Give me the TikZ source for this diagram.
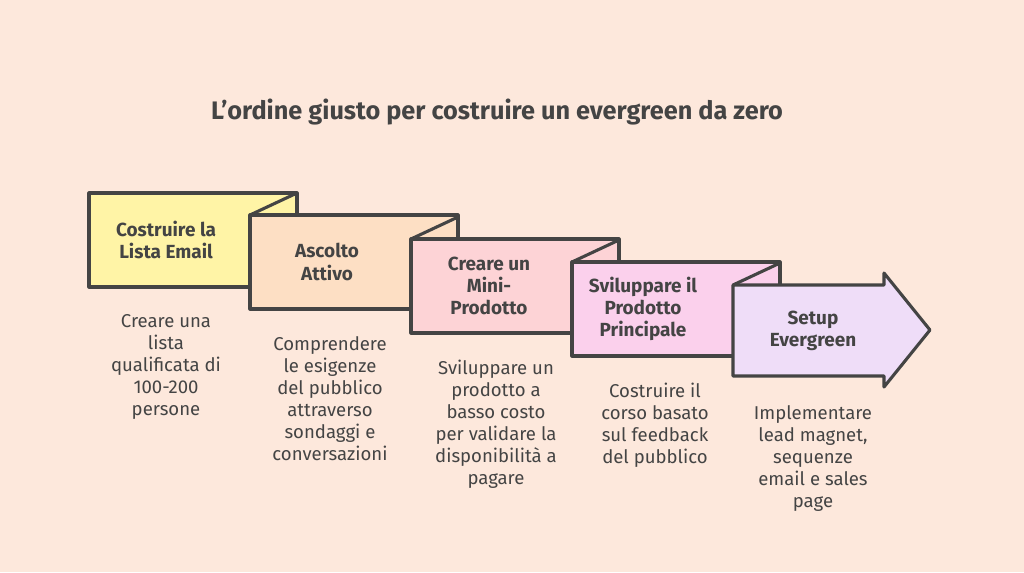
\documentclass[tikz,border=0pt]{standalone}
\usepackage{fontspec}
\setmainfont{Fira Sans}
\usetikzlibrary{positioning}
\definecolor{bgpeach}{HTML}{FDE8DC}
\definecolor{inkgrey}{HTML}{444444}
\definecolor{stepA}{HTML}{FFF4A6}
\definecolor{stepB}{HTML}{FDDFC4}
\definecolor{stepC}{HTML}{FDD3D6}
\definecolor{stepD}{HTML}{FBD0EC}
\definecolor{stepE}{HTML}{EFDDF8}
\tikzset{
  stepbox/.style={draw=inkgrey,line width=2.2pt,line join=round},
  steptext/.style={align=center,font=\fontsize{13.5}{15.8}\selectfont\bfseries,text=inkgrey},
  desctext/.style={align=center,font=\fontsize{13.2}{15.6}\selectfont,text=inkgrey}
}
\begin{document}
\begin{tikzpicture}[x=0.025cm,y=-0.025cm]
  \fill[bgpeach] (0,0) rectangle (1024,572);
  \node[font=\fontsize{18}{20}\selectfont\bfseries,text=inkgrey] (title) at (497,112)
    {L'ordine giusto per costruire un evergreen da zero};

  % steps 1-4
  \foreach \x/\y/\c in {89/193/stepA,250/215/stepB,411/239/stepC,572/262/stepD} {
    \draw[stepbox,fill=\c] (\x,\y) rectangle ++(208,94);
  }
  % last step as arrow
  \draw[stepbox,fill=stepE] (733,285) -- (884,285) -- (884,273) -- (930,330)
    -- (884,387) -- (884,376) -- (733,376) -- cycle;
  % folds
  \foreach \x/\y in {250/215,411/239,572/262,733/285} {
    \draw[stepbox] (\x+47,\y-22) -- (\x,\y);
  }

  \node[steptext] (s1) at (166,240) {Costruire la\\Lista Email};
  \node[steptext] (s2) at (327,262) {Ascolto\\Attivo};
  \node[steptext] (s3) at (489,286) {Creare un\\Mini-\\Prodotto};
  \node[steptext] (s4) at (643,309) {Sviluppare il\\Prodotto\\Principale};
  \node[steptext] (s5) at (813,331) {Setup\\Evergreen};

  \node[desctext,anchor=north] (d1) at (166,310) {Creare una\\lista\\qualificata di\\100-200\\persone};
  \node[desctext,anchor=north] (d2) at (330,332) {Comprendere\\le esigenze\\del pubblico\\attraverso\\sondaggi e\\conversazioni};
  \node[desctext,anchor=north] (d3) at (496,355) {Sviluppare un\\prodotto a\\basso costo\\per validare la\\disponibilità a\\pagare};
  \node[desctext,anchor=north] (d4) at (655,378) {Costruire il\\corso basato\\sul feedback\\del pubblico};
  \node[desctext,anchor=north] (d5) at (813,401) {Implementare\\lead magnet,\\sequenze\\email e sales\\page};
\end{tikzpicture}
\end{document}
